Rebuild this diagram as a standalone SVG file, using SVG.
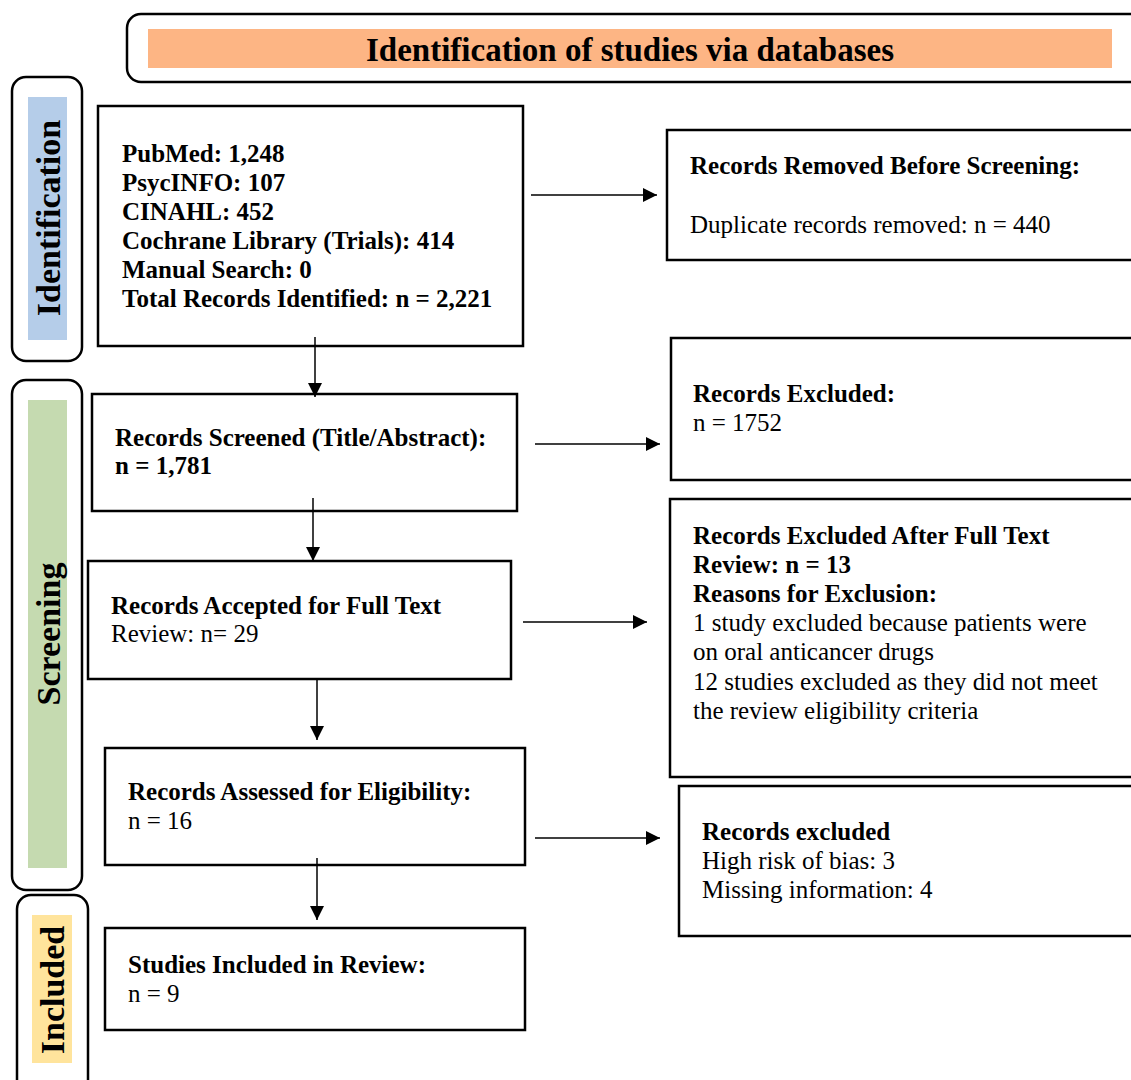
<svg xmlns="http://www.w3.org/2000/svg" width="1131" height="1080" viewBox="0 0 1131 1080">
<defs>
<marker id="ah" viewBox="0 0 14 14" refX="14" refY="7" markerWidth="15" markerHeight="14" markerUnits="userSpaceOnUse" orient="auto">
<path d="M0,0 L14,7 L0,14 z" fill="#000"/>
</marker>
<style>
.box{fill:#fff;stroke:#000;stroke-width:2.5}
.panel{fill:#fff;stroke:#000;stroke-width:2.5}
.t{font-family:"Liberation Serif","Times New Roman",serif;font-size:25px;fill:#000}
.b{font-weight:bold}
.side{font-family:"Liberation Serif","Times New Roman",serif;font-size:34px;font-weight:bold;fill:#000;text-anchor:middle}
.c{stroke:#000;stroke-width:1.5;fill:none;marker-end:url(#ah)}
</style>
</defs>
<rect width="1131" height="1080" fill="#fff"/>
<g id="header">
<rect class="panel" x="127" y="14" width="1020" height="68" rx="14"/>
<rect x="148" y="29" width="964" height="39" fill="#FDB584"/>
<text x="630" y="61" text-anchor="middle" style="font-family:'Liberation Serif','Times New Roman',serif;font-size:33px;font-weight:bold">Identification of studies via databases</text>
</g>
<g id="phase-identification">
<rect class="panel" x="12" y="77" width="70" height="284" rx="14"/>
<rect x="28" y="97" width="39" height="243" fill="#B5CDE9"/>
<text class="side" transform="translate(60,218) rotate(-90)">Identification</text>
</g>
<g id="phase-screening">
<rect class="panel" x="12" y="380" width="70" height="510" rx="14"/>
<rect x="28" y="400" width="39" height="468" fill="#C5DAB0"/>
<text class="side" transform="translate(60,634) rotate(-90)">Screening</text>
</g>
<g id="phase-included">
<rect class="panel" x="17" y="895" width="71" height="200" rx="14"/>
<rect x="32" y="915" width="40" height="148" fill="#FFE49C"/>
<text class="side" transform="translate(64,990) rotate(-90)">Included</text>
</g>
<g id="box-identified">
<rect class="box" x="98" y="106" width="425" height="240"/>
<text class="t b" x="122" y="162">PubMed: 1,248</text>
<text class="t b" x="122" y="191">PsycINFO: 107</text>
<text class="t b" x="122" y="220">CINAHL: 452</text>
<text class="t b" x="122" y="249">Cochrane Library (Trials): 414</text>
<text class="t b" x="122" y="278">Manual Search: 0</text>
<text class="t b" x="122" y="307">Total Records Identified: n = 2,221</text>
</g>
<g id="box-screened">
<rect class="box" x="92" y="394" width="425" height="117"/>
<text class="t b" x="115" y="446">Records Screened (Title/Abstract):</text>
<text class="t b" x="115" y="474">n = 1,781</text>
</g>
<g id="box-fulltext">
<rect class="box" x="88" y="561" width="423" height="118"/>
<text class="t b" x="111" y="614">Records Accepted for Full Text</text>
<text class="t" x="111" y="642">Review: n= 29</text>
</g>
<g id="box-eligibility">
<rect class="box" x="105" y="748" width="420" height="117"/>
<text class="t b" x="128" y="800">Records Assessed for Eligibility:</text>
<text class="t" x="128" y="829">n = 16</text>
</g>
<g id="box-included">
<rect class="box" x="105" y="928" width="420" height="102"/>
<text class="t b" x="128" y="973">Studies Included in Review:</text>
<text class="t" x="128" y="1002">n = 9</text>
</g>
<g id="box-removed">
<rect class="box" x="667" y="130" width="480" height="130"/>
<text class="t b" x="690" y="174">Records Removed Before Screening:</text>
<text class="t" x="690" y="233">Duplicate records removed: n = 440</text>
</g>
<g id="box-excluded">
<rect class="box" x="671" y="338" width="480" height="142"/>
<text class="t b" x="693" y="402">Records Excluded:</text>
<text class="t" x="693" y="431">n = 1752</text>
</g>
<g id="box-excluded-fulltext">
<rect class="box" x="670" y="499" width="480" height="278"/>
<text class="t b" x="693" y="544">Records Excluded After Full Text</text>
<text class="t b" x="693" y="573">Review: n = 13</text>
<text class="t b" x="693" y="602">Reasons for Exclusion:</text>
<text class="t" x="693" y="631">1 study excluded because patients were</text>
<text class="t" x="693" y="660">on oral anticancer drugs</text>
<text class="t" x="693" y="690">12 studies excluded as they did not meet</text>
<text class="t" x="693" y="719">the review eligibility criteria</text>
</g>
<g id="box-excluded-bias">
<rect class="box" x="679" y="786" width="470" height="150"/>
<text class="t b" x="702" y="840">Records excluded</text>
<text class="t" x="702" y="869">High risk of bias: 3</text>
<text class="t" x="702" y="898">Missing information: 4</text>
</g>
<g id="connectors">
<line class="c" x1="315" y1="337" x2="315" y2="397"/>
<line class="c" x1="313" y1="498" x2="313" y2="561"/>
<line class="c" x1="317" y1="679" x2="317" y2="740"/>
<line class="c" x1="317" y1="858" x2="317" y2="920"/>
<line class="c" x1="531" y1="195" x2="657" y2="195"/>
<line class="c" x1="535" y1="444" x2="660" y2="444"/>
<line class="c" x1="523" y1="622" x2="647" y2="622"/>
<line class="c" x1="535" y1="838" x2="660" y2="838"/>
</g>
</svg>
